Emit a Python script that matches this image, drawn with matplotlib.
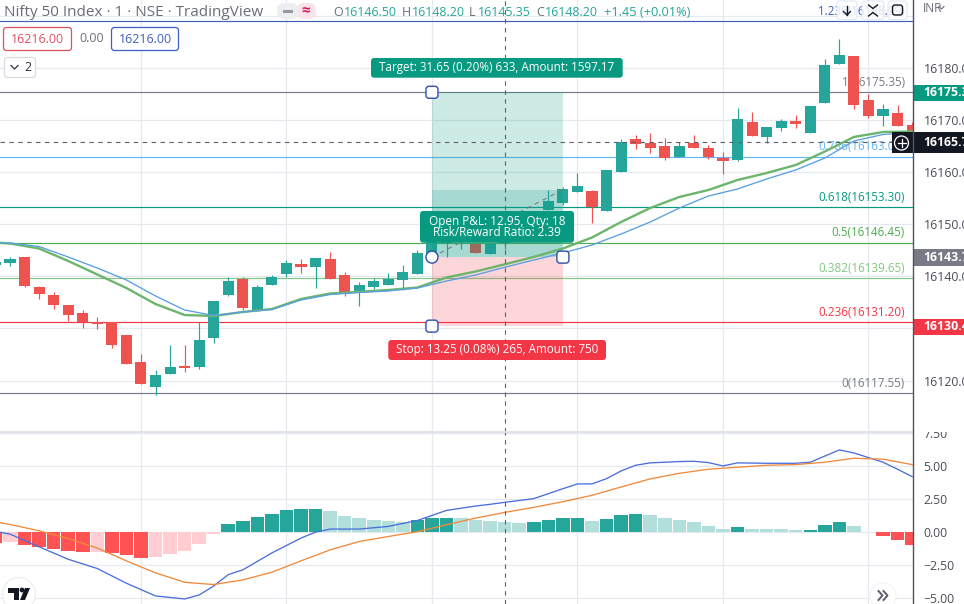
import matplotlib
matplotlib.use('Agg')
import matplotlib.pyplot as plt
from matplotlib.patches import FancyBboxPatch, Rectangle, Circle, Polygon

plt.rcParams['font.family'] = ['Open Sans', 'DejaVu Sans']

# --- candles, one row per bar ---
opens = [16142.19, 16142.51, 16143.73, 16137.97, 16136.43, 16134.51, 16132.97, 16131.18, 16131.18, 16128.75,
         16123.56, 16118.76, 16121.26, 16122.80, 16122.60, 16128.17, 16136.43, 16139.57, 16133.55, 16138.35,
         16140.46, 16142.38, 16141.81, 16143.34, 16140.27, 16136.75, 16137.96, 16138.35, 16139.31, 16140.46,
         16144.20, 16146.50, 16146.60, 16146.20, 16144.30, 16146.50, 16148.00, 16150.00, 16152.75, 16154.16,
         16156.20, 16156.40, 16152.56, 16159.98, 16166.38, 16165.61, 16165.04, 16162.92, 16165.61, 16164.65,
         16162.73, 16162.35, 16169.64, 16166.76, 16168.49, 16169.84, 16167.53, 16173.29, 16180.78, 16182.32,
         16173.87, 16170.80, 16171.37, 16169.07]
highs = [16142.83, 16143.73, 16143.73, 16138.16, 16137.00, 16134.51, 16133.55, 16132.20, 16131.18, 16128.75,
         16125.10, 16122.03, 16126.83, 16126.83, 16131.18, 16135.28, 16139.89, 16139.89, 16138.35, 16140.27,
         16143.15, 16143.34, 16143.53, 16144.75, 16140.91, 16138.86, 16139.76, 16140.65, 16142.19, 16145.07,
         16147.50, 16148.00, 16148.00, 16146.20, 16146.20, 16148.20, 16150.20, 16152.60, 16156.59, 16157.23,
         16159.79, 16156.60, 16160.43, 16166.30, 16167.15, 16167.53, 16166.57, 16165.80, 16167.15, 16165.23,
         16163.88, 16172.33, 16171.56, 16168.68, 16170.22, 16170.99, 16172.72, 16181.74, 16185.58, 16182.32,
         16175.02, 16173.10, 16172.91, 16169.64]
lows = [16142.19, 16142.06, 16137.97, 16135.66, 16133.80, 16131.44, 16130.16, 16129.90, 16126.32, 16123.18,
        16119.34, 16117.29, 16121.26, 16121.64, 16122.22, 16127.21, 16136.24, 16133.55, 16133.55, 16138.35,
        16139.89, 16140.65, 16137.77, 16139.50, 16136.24, 16134.32, 16137.58, 16138.35, 16137.39, 16140.46,
        16144.20, 16143.66, 16145.20, 16144.49, 16144.30, 16145.35, 16147.60, 16149.50, 16152.75, 16153.71,
        16156.20, 16150.32, 16152.56, 16159.98, 16164.46, 16163.69, 16162.35, 16162.92, 16164.65, 16162.54,
        16159.66, 16162.16, 16166.96, 16165.61, 16167.92, 16168.49, 16167.53, 16173.29, 16180.78, 16172.14,
        16170.41, 16168.88, 16168.88, 16167.80]
closes = [16142.83, 16143.34, 16138.16, 16136.68, 16134.51, 16132.59, 16131.18, 16130.86, 16126.83, 16123.18,
          16119.34, 16121.07, 16122.60, 16122.41, 16127.79, 16135.28, 16139.12, 16133.93, 16137.97, 16139.89,
          16142.57, 16141.81, 16143.53, 16139.50, 16136.62, 16138.35, 16139.12, 16139.50, 16140.84, 16144.49,
          16147.50, 16147.80, 16147.60, 16144.49, 16146.20, 16148.20, 16150.00, 16152.30, 16154.48, 16156.78,
          16157.36, 16153.26, 16160.43, 16165.74, 16165.42, 16164.65, 16162.73, 16165.04, 16164.65, 16162.92,
          16162.16, 16170.22, 16166.96, 16168.68, 16169.84, 16169.26, 16172.72, 16180.59, 16182.51, 16172.91,
          16170.80, 16172.14, 16168.88, 16167.80]

# --- moving averages, read at every second bar ---
ma_bars = [0] + list(range(1, 64, 2))
ma_fast = [16146.50, 16146.32, 16145.36, 16142.96, 16140.37, 16137.77, 16134.70, 16132.59, 16132.40, 16133.17,
           16133.74, 16135.66, 16136.72, 16137.04, 16137.39, 16137.87, 16139.79, 16140.94, 16142.32, 16143.73,
           16145.36, 16147.47, 16150.45, 16153.13, 16155.25, 16156.59, 16158.51, 16159.85, 16161.39, 16163.98,
           16166.77, 16167.73, 16167.82]
ma_slow = [16146.50, 16146.41, 16145.74, 16143.73, 16141.61, 16139.31, 16136.24, 16133.55, 16132.49, 16133.17,
           16133.64, 16135.47, 16136.52, 16136.91, 16137.20, 16137.77, 16139.12, 16140.27, 16141.75, 16143.15,
           16144.49, 16146.03, 16148.14, 16150.45, 16153.13, 16155.44, 16156.78, 16158.70, 16160.43, 16162.73,
           16166.00, 16167.25, 16167.63]

# --- fibonacci levels ---
fib_names = ['1.236', '1', '0.786', '0.618', '0.5', '0.382', '0.236', '0']
fib_prices = [16188.99, 16175.35, 16163.00, 16153.30, 16146.45, 16139.65, 16131.20, 16117.55]
fib_colors = ['#3f5fb8', '#787b86', '#64b5f6', '#089981', '#4caf50', '#81c784', '#f23645', '#787b86']

# --- long position tool ---
entry_price = 16143.70
target_price = 16175.35
stop_price = 16130.45
last_price = 16156.65
tool_start, tool_end = 30, 39

# --- macd pane ---
hist = [-0.83, -0.78, -0.96, -1.11, -1.26, -1.41, -1.50, -1.49, -1.57, -1.72,
        -1.94, -1.87, -1.64, -1.41, -0.88, -0.13, 0.63, 0.86, 1.16, 1.39,
        1.69, 1.77, 1.78, 1.62, 1.24, 1.09, 0.93, 0.86, 0.78, 0.93,
        1.09, 1.10, 1.08, 0.93, 0.86, 0.78, 0.71, 0.78, 0.93, 1.09,
        1.10, 0.86, 1.01, 1.31, 1.39, 1.31, 1.09, 0.93, 0.78, 0.48,
        0.25, 0.40, 0.26, 0.25, 0.24, 0.18, 0.19, 0.56, 0.78, 0.48,
        0.03, -0.28, -0.58, -0.96]
macd_bars = [0, 1, 3, 5, 7, 9, 11, 13, 14, 15, 16, 17, 19, 21, 22, 23, 25, 27, 29, 31, 33, 34, 35, 37, 39, 40,
             41, 42, 43, 44, 45, 47, 48, 49, 50, 51, 53, 55, 56, 58, 59, 60, 61, 62, 63]
macd_line = [0.05, -0.15, -1.11, -2.05, -2.75, -3.86, -4.82, -5.05, -4.75, -4.07, -3.21, -2.85, -1.57, -0.45, 0.00,
             0.23, 0.23, 0.43, 0.88, 1.64, 1.97, 2.10, 2.25, 2.53, 3.28, 3.64,
             3.64, 4.04, 4.62, 5.05, 5.23, 5.33, 5.35, 5.25, 5.00, 5.23, 5.20, 5.20, 5.28, 6.21, 5.98, 5.63, 5.28, 4.75, 4.19]
signal_bars = [0] + list(range(1, 64, 2))
signal_line = [0.78, 0.58, 0.10, -0.48, -1.21, -2.17, -3.08, -3.79, -3.96, -3.61, -3.03, -2.17, -1.34, -0.71, -0.33,
               0.03, 0.56, 1.06, 1.49, 1.87, 2.30, 2.78, 3.41, 4.02, 4.44, 4.75, 4.90, 5.05, 5.10, 5.28, 5.58, 5.51, 5.10]

price_ticks = [16120, 16130, 16140, 16150, 16160, 16170, 16180, 16190]
macd_ticks = [-5.0, -2.5, 0.0, 2.5, 5.0, 7.5]
time_grid = [10, 20, 30, 40, 50, 60]

TEAL = '#26a69a'
RED = '#ef5350'
GRID = '#e6e9ef'
TOOL_TEAL = '#089981'
TOOL_RED = '#f23645'
LABEL = '#4a4d57'
W, H = 964, 604
PANE_Y = 431.5
AXIS_X = 913


def setup_pane(axis, ticks, labels):
    axis.set_xlim(0.3127, 63.06)
    axis.set_xticks(time_grid)
    axis.set_yticks(ticks)
    axis.set_yticklabels(labels, fontsize=8.8, color=LABEL)
    axis.yaxis.tick_right()
    axis.tick_params(axis='both', length=0, pad=7.5)
    axis.tick_params(axis='x', labelbottom=False)
    axis.grid(True, color=GRID, linewidth=0.9)
    axis.set_axisbelow(True)
    for side in ['top', 'left', 'bottom', 'right']:
        axis.spines[side].set_visible(False)


fig = plt.figure(figsize=(W / 100, H / 100), dpi=100)
ax = fig.add_axes([0, (H - PANE_Y) / H, AXIS_X / W, PANE_Y / H])
pane = fig.add_axes([0, 0, AXIS_X / W, (H - PANE_Y) / H])

# --- main pane ---
ax.set_ylim(16110.22, 16193.07)
shown = [f'{p}.00' if p not in (16130, 16190) else '' for p in price_ticks]
setup_pane(ax, price_ticks, shown)

for name, price, color in zip(fib_names, fib_prices, fib_colors):
    ax.axhline(price, color=color, linewidth=0.85, zorder=1.2)
    ax.annotate(f'{name}({price:.2f})', xy=(1, price), xycoords=ax.get_yaxis_transform(),
                xytext=(-6, 2.5), textcoords='offset points', ha='right', va='bottom',
                fontsize=8.35, color=color, zorder=1.5)

bars = range(len(opens))
colors = [TEAL if c >= o else RED for o, c in zip(opens, closes)]
ax.vlines(bars, lows, highs, colors=colors, linewidth=0.85, zorder=3)
ax.bar(bars, [abs(c - o) for o, c in zip(opens, closes)], bottom=[min(o, c) for o, c in zip(opens, closes)],
       width=0.76, color=colors, linewidth=0, zorder=3)

width = tool_end - tool_start
ax.add_patch(Rectangle((tool_start, entry_price), width, target_price - entry_price,
                       facecolor=TOOL_TEAL, alpha=0.2, linewidth=0, zorder=4))
ax.add_patch(Rectangle((tool_start, entry_price), width, last_price - entry_price,
                       facecolor=TOOL_TEAL, alpha=0.2, linewidth=0, zorder=4))
ax.add_patch(Rectangle((tool_start, stop_price), width, entry_price - stop_price,
                       facecolor=TOOL_RED, alpha=0.2, linewidth=0, zorder=4))
ax.plot([tool_start, tool_end], [entry_price, last_price], color='#787b86', linewidth=0.8,
        dashes=(4, 4), zorder=4.2)

ax.plot(ma_bars, ma_fast, color='#6cb56c', linewidth=1.7, zorder=5)
ax.plot(ma_bars, ma_slow, color='#5a9fe0', linewidth=0.95, zorder=5)

ax.axhline(16165.75, color='#5d606b', linewidth=0.8, dashes=(4, 4), zorder=6)
ax.axvline(35, color='#5d606b', linewidth=0.8, dashes=(4, 4), zorder=6)

# --- macd pane ---
pane.set_ylim(-5.43, 7.6)
setup_pane(pane, macd_ticks, [f'{v:.2f}'.replace('-', '\u2212') for v in macd_ticks])
hist_colors = []
for k, v in enumerate(hist):
    rising = k > 0 and v > hist[k - 1]
    if v >= 0:
        hist_colors.append('#26a69a' if rising else '#b2dfdb')
    else:
        hist_colors.append('#ffcdd2' if rising else '#ff5252')
pane.bar(range(len(hist)), hist, width=0.93, color=hist_colors, linewidth=0, zorder=2)
pane.plot(macd_bars, macd_line, color='#4a6fdc', linewidth=0.95, zorder=3)
pane.plot(signal_bars, signal_line, color='#f08a3c', linewidth=0.95, zorder=3)
pane.axvline(35, color='#5d606b', linewidth=0.8, dashes=(4, 4), zorder=6)

# --- overlay in screen pixels: labels, buttons, tags ---
chrome = fig.add_axes([0, 0, 1, 1], facecolor='none')
chrome.set_xlim(0, W)
chrome.set_ylim(H, 0)
chrome.axis('off')


def to_px(bar, price):
    return chrome.transData.inverted().transform(ax.transData.transform((bar, price)))


def box(x0, y0, x1, y1, fc='white', ec='none', lw=0.9, r=3, alpha=None, z=2):
    chrome.add_patch(FancyBboxPatch((x0, y0), x1 - x0, y1 - y0, boxstyle=f'round,pad=0,rounding_size={r}',
                                    facecolor=fc, edgecolor=ec, linewidth=lw, alpha=alpha, zorder=z))


def label(x, y, s, size=8.4, color='white', ha='left', weight='normal', z=3):
    chrome.text(x, y + 1, s, fontsize=size, color=color, ha=ha, va='center', fontweight=weight, zorder=z)


# separators
chrome.plot([0, AXIS_X], [PANE_Y, PANE_Y], color='#dfe2e9', linewidth=1.4, zorder=1)
chrome.add_patch(Rectangle((AXIS_X, 424), W - AXIS_X, PANE_Y - 424, facecolor='white', linewidth=0, zorder=1))
chrome.plot([AXIS_X, AXIS_X], [0, H], color='#50535e', linewidth=1.0, zorder=4)

# header
label(4, 11.5, 'Nifty 50 Index \u00b7 1 \u00b7 NSE \u00b7 TradingView', size=11, color='#6a6d78')
box(277, 3, 298, 19, fc='#eceef2', r=7)
box(297, 3, 316, 19, fc='#fbe3ea', r=7)
chrome.add_patch(Rectangle((283, 9.5), 10, 3, facecolor='#9598a1', linewidth=0, zorder=3))
label(306, 10, '\u2248', size=11, color='#d81b60', ha='center', weight='bold')
ohlc = [(333, 'O', 344, '16146.50'), (402, 'H', 412, '16148.20'), (469, 'L', 477.5, '16145.35'), (536, 'C', 545, '16148.20')]
for x0, key, x1, val in ohlc:
    label(x0, 12, key, size=8.9, color='#6a6d78')
    label(x1, 12, val, size=8.9, color=TEAL)
label(603.5, 12, '+1.45 (+0.01%)', size=9.2, color=TEAL)

# order buttons
box(3.5, 27.5, 71.5, 50.5, ec='#e0515f', r=3)
label(37.5, 38.5, '16216.00', size=8.9, color='#e0515f', ha='center')
label(79, 37.5, '0.00', size=8.9, color='#6a6d78')
box(111.5, 27.5, 178.5, 50.5, ec='#3d5fc4', r=3)
label(145, 38.5, '16216.00', size=8.9, color='#3d5fc4', ha='center')
box(4.5, 57.5, 35.5, 77.5, ec='#d9dbe1', r=3)
chrome.plot([11, 14.5, 18], [65.5, 69, 65.5], color='#2a2e39', linewidth=0.9, zorder=3)
label(24, 66.5, '2', size=8.9, color='#2a2e39')

# position tool labels
box(371, 58, 622.7, 77.7, fc=TOOL_TEAL)
label(497, 67, 'Target: 31.65 (0.20%) 633, Amount: 1597.17', color='white', ha='center', weight='medium')
box(388.3, 340, 606, 360, fc=TOOL_RED)
label(497, 349, 'Stop: 13.25 (0.08%) 265, Amount: 750', color='white', ha='center', weight='medium')
box(420, 211, 574, 242.7, fc=TOOL_TEAL)
label(497, 220, 'Open P&L: 12.95, Qty: 18', size=8.5, color='white', ha='center', weight='medium')
label(497, 232, 'Risk/Reward Ratio: 2.39', size=8.5, color='white', ha='center', weight='medium')

# position tool handles
handle_color = '#2f4fb0'
for bar, price in [(tool_start, target_price), (tool_start, stop_price), (tool_end, entry_price)]:
    px, py = to_px(bar, price)
    box(px - 6, py - 6, px + 6, py + 6, ec=handle_color, r=3, lw=1.0)
px, py = to_px(tool_start, entry_price)
chrome.add_patch(Circle((px, py), 6, facecolor='white', edgecolor=handle_color, linewidth=1.0, zorder=2))

# price tags
label(923, 7, 'INR', size=8.6, color='#6a6d78')
chrome.plot([939, 941.5, 944], [6.5, 9, 6.5], color='#6a6d78', linewidth=0.8, zorder=3)
tags = [(84.5, 100.5, TOOL_TEAL, '16175.35', 913), (132, 153, '#131722', '16165.75', 891.5),
        (249, 265.5, '#787b86', '16143.70', 913), (319, 335, TOOL_RED, '16130.45', 913)]
for y0, y1, color, text, x0 in tags:
    chrome.add_patch(Rectangle((x0, y0), W - x0, y1 - y0, facecolor=color, linewidth=0, zorder=3))
    label(923, (y0 + y1) / 2 - 1, text, size=8.8, weight='bold', z=5)
chrome.add_patch(Circle((901.5, 143), 7, facecolor='none', edgecolor='white', linewidth=0.9, zorder=5))
chrome.plot([897.5, 905.5], [143, 143], color='white', linewidth=0.9, zorder=5)
chrome.plot([901.5, 901.5], [139, 147], color='white', linewidth=0.9, zorder=5)

# top right buttons
for x0, x1 in [(837, 857), (862, 884), (888, 907)]:
    box(x0, 1, x1, 19.5, fc='white', ec='#dfe5f2', r=3, alpha=0.82)
chrome.plot([847, 847], [5.5, 15], color='#131722', linewidth=1.0, zorder=3)
chrome.plot([843.5, 847, 850.5], [11.5, 15, 11.5], color='#131722', linewidth=1.0, zorder=3)
chrome.plot([868.5, 873, 877.5], [5, 8.5, 5], color='#131722', linewidth=1.0, zorder=3)
chrome.plot([868.5, 873, 877.5], [16, 12.5, 16], color='#131722', linewidth=1.0, zorder=3)
box(892.5, 5, 902.5, 15, ec='#131722', r=2.5, lw=1.0, fc='none')

# logo and scroll button
chrome.add_patch(Circle((19, 594), 16.5, facecolor='white', edgecolor='#eeeff2', linewidth=1.0, zorder=2))
chrome.add_patch(Polygon([(8, 588), (19, 588), (19, 600), (14, 600), (14, 593), (8, 593)], facecolor='#131722', linewidth=0, zorder=3))
chrome.add_patch(Circle((22, 590), 2.4, facecolor='#131722', linewidth=0, zorder=3))
chrome.add_patch(Polygon([(25, 588), (30, 588), (25, 600), (20, 600)], facecolor='#131722', linewidth=0, zorder=3))
chrome.add_patch(Circle((883, 596), 13, facecolor='white', edgecolor='#f3f4f6', linewidth=0.8, zorder=2))
for dx in [0, 5]:
    chrome.plot([878.5 + dx, 882.5 + dx, 878.5 + dx], [591, 595.5, 600], color='#5d606b', linewidth=1.4, zorder=3)

fig.savefig('out.png', dpi=100)
